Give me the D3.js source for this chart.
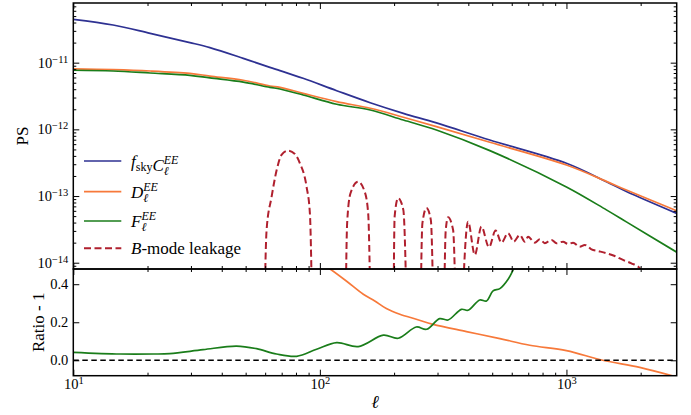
<!DOCTYPE html>
<html>
<head>
<meta charset="utf-8">
<script src="https://cdn.jsdelivr.net/npm/d3@7"></script>
<style>
  body { margin: 0; background: #fff; }
  svg { font-family: "Liberation Serif", "Times New Roman", serif; }
  .axis line { stroke: #000; stroke-width: 1; }
  .axis text { fill: #000; font-size: 14.5px; font-family: "Liberation Serif", serif; }
</style>
</head>
<body>
<svg width="691" height="415"></svg>
<script>
// multipoles shared by the three spectra of the top panel
var ell = [10, 14.5, 20.5, 29.7, 35.8, 48.9, 62.7, 68.9, 85.5, 117, 160, 218, 297, 489, 1000, 1452, 1750, 2800];
var fskyCl = [4.47e-11, 3.67e-11, 2.75e-11, 2.0e-11, 1.68e-11, 1.16e-11, 8.5e-12, 7.6e-12, 5.83e-12, 3.8e-12,
  2.51e-12, 1.74e-12, 1.25e-12, 6.93e-13, 3.1e-13, 1.64e-13, 1.17e-13, 5.5e-14];
var dEll = [8.05e-12, 7.85e-12, 7.5e-12, 6.9e-12, 6.3e-12, 5.45e-12, 4.47e-12, 4.27e-12, 3.47e-12, 2.6e-12,
  2.07e-12, 1.52e-12, 1.10e-12, 6.4e-13, 2.92e-13, 1.66e-13, 1.23e-13, 6.0e-14];
var fEll = [7.7e-12, 7.5e-12, 7.0e-12, 6.45e-12, 5.9e-12, 5.1e-12, 4.27e-12, 4.03e-12, 3.28e-12, 2.38e-12,
  1.95e-12, 1.38e-12, 9.8e-13, 4.8e-13, 1.37e-13, 6.2e-14, 4.1e-14, 1.44e-14];

// B-mode leakage, null = negative part (not drawn on a log axis), 1e-16 = crossing zero
var leakEll = [58.9, 60.8, 63.7, 66.8, 69.9, 74.4, 79.2, 83.0, 88.3, 91.1, 94.0, null,
  126.2, 129, 133, 142.9, 152, 157, 162, null,
  198, 201, 207.6, 218, 228, null,
  254, 260.5, 270.6, 281.8, 292, null,
  316, 324, 331, 347, 360, null,
  368, 399, 425, 452, 485, 516, 545, 580, 611, 647, 678, 699, 744, 780, 817, 870, 911, 969,
  1015, 1064, 1132, 1187, 1263, 1343, 1452, 1570, 1696, 1834, 1982, 2100];
var leakVal = [1e-16, 3.1e-14, 9.7e-14, 2.45e-13, 4.13e-13, 4.8e-13, 4.27e-13, 3.1e-13, 1.38e-13, 5.5e-14, 1e-16, null,
  1e-16, 3.9e-14, 1.09e-13, 1.64e-13, 1.16e-13, 5.5e-14, 1e-16, null,
  1e-16, 4.9e-14, 9.3e-14, 6.2e-14, 1e-16, null,
  1e-16, 3.9e-14, 6.6e-14, 4.4e-14, 1e-16, null,
  1e-16, 3.1e-14, 4.8e-14, 3.1e-14, 1e-16, null,
  1e-16, 4.13e-14, 1.31e-14, 3.48e-14, 1.71e-14, 3.03e-14, 2.0e-14, 2.77e-14, 2.07e-14, 2.61e-14, 2.07e-14, 2.46e-14,
  2.0e-14, 2.25e-14, 1.96e-14, 2.2e-14, 1.96e-14, 2.07e-14, 1.91e-14, 2.0e-14, 1.74e-14, 1.85e-14, 1.59e-14,
  1.5e-14, 1.39e-14, 1.26e-14, 1.1e-14, 9.8e-15, 8.3e-15, 6e-15];

// bottom panel (ratio - 1)
var ratioFEll = [10, 15.5, 21.1, 24.6, 33.6, 45.9, 55.4, 66.7, 80.5, 97, 117, 143, 181, 208, 246, 271, 306, 331,
  375, 399, 445, 474, 504, 537, 580, 620];
var ratioF = [0.042, 0.033, 0.033, 0.035, 0.056, 0.075, 0.061, 0.033, 0.021, 0.058, 0.093, 0.072, 0.132, 0.116,
  0.175, 0.163, 0.219, 0.212, 0.268, 0.263, 0.317, 0.312, 0.365, 0.377, 0.426, 0.50];
var ratioDEll = [100, 110, 128, 150, 167, 186, 211, 246, 288, 393, 537, 710, 1000, 1403, 1983, 2800];
var ratioD = [0.515, 0.48, 0.417, 0.347, 0.312, 0.272, 0.242, 0.216, 0.189, 0.151, 0.114, 0.079, 0.051, 0.0,
  -0.037, -0.088];

var xMajor = [10, 100, 1000];
var topMajor = [1e-14, 1e-13, 1e-12, 1e-11];
var ratioTicks = [0.0, 0.2, 0.4];

var colors = { c: "#2e3192", d: "#f7793a", f: "#1a7d1a", leak: "#b0202e" };

var svg = d3.select("svg");
// note: "top" is taken by window.top, hence plotTop
var left = 73.3, right = 676.7, plotTop = 3, mid = 269, bottom = 375.7;

var x = d3.scaleLog().domain([10, 2800]).range([left, right]);
var yTop = d3.scaleLog().domain([8.05e-15, 7.85e-11]).range([mid, plotTop]);
var yBot = d3.scaleLinear().domain([-0.081, 0.48]).range([bottom, mid]);

var xMinor = [];
[10, 100, 1000].forEach(function (b) {
  for (var k = 2; k <= 9; k++) if (b * k <= 2800) xMinor.push(b * k);
});
var yMinor = [];
[1e-15, 1e-14, 1e-13, 1e-12, 1e-11].forEach(function (b) {
  for (var k = 2; k <= 9; k++) {
    var v = b * k;
    if (v >= 8.05e-15 && v <= 7.85e-11) yMinor.push(v);
  }
});

var defs = svg.append("defs");
defs.append("clipPath").attr("id", "clipTop").append("rect")
  .attr("x", left).attr("y", plotTop).attr("width", right - left).attr("height", mid - plotTop);
defs.append("clipPath").attr("id", "clipBot").append("rect")
  .attr("x", left).attr("y", mid).attr("width", right - left).attr("height", bottom - mid);

// ---- top panel lines
var lineTop = d3.line()
  .x(function (d) { return x(d[0]); })
  .y(function (d) { return yTop(d[1]); })
  .curve(d3.curveCatmullRom);
var lineLeak = d3.line()
  .defined(function (d) { return d[0] != null && d[1] != null; })
  .x(function (d) { return x(d[0]); })
  .y(function (d) { return yTop(d[1]); })
  .curve(d3.curveMonotoneX);

var gTop = svg.append("g").attr("clip-path", "url(#clipTop)");
gTop.append("path").datum(ell.map(function (l, i) { return [l, fskyCl[i]]; }))
  .attr("d", lineTop).attr("fill", "none").attr("stroke", colors.c).attr("stroke-width", 1.7);
gTop.append("path").datum(ell.map(function (l, i) { return [l, dEll[i]]; }))
  .attr("d", lineTop).attr("fill", "none").attr("stroke", colors.d).attr("stroke-width", 1.7);
gTop.append("path").datum(ell.map(function (l, i) { return [l, fEll[i]]; }))
  .attr("d", lineTop).attr("fill", "none").attr("stroke", colors.f).attr("stroke-width", 1.7);
gTop.append("path").datum(leakEll.map(function (l, i) { return [l, leakVal[i]]; }))
  .attr("d", lineLeak).attr("fill", "none").attr("stroke", colors.leak).attr("stroke-width", 2)
  .attr("stroke-dasharray", "7,3.5");

// ---- bottom panel lines
var lineBot = d3.line()
  .x(function (d) { return x(d[0]); })
  .y(function (d) { return yBot(d[1]); })
  .curve(d3.curveCatmullRom);

var gBot = svg.append("g").attr("clip-path", "url(#clipBot)");
gBot.append("path").datum(ratioDEll.map(function (l, i) { return [l, ratioD[i]]; }))
  .attr("d", lineBot).attr("fill", "none").attr("stroke", colors.d).attr("stroke-width", 1.7);
gBot.append("path").datum(ratioFEll.map(function (l, i) { return [l, ratioF[i]]; }))
  .attr("d", lineBot).attr("fill", "none").attr("stroke", colors.f).attr("stroke-width", 1.7);
gBot.append("path").datum([[10, 0], [2800, 0]])
  .attr("d", lineBot).attr("fill", "none").attr("stroke", "#000").attr("stroke-width", 1.5)
  .attr("stroke-dasharray", "5.5,3.5");

// ---- ticks (all inward)
function ticks(axis, tx, ty) {
  var g = svg.append("g").attr("class", "axis").attr("transform", "translate(" + tx + "," + ty + ")").call(axis);
  g.select(".domain").remove();
  return g;
}
function sup(sel, base, exp) {
  sel.each(function () {
    var t = d3.select(this).text(null);
    t.append("tspan").text(base);
    t.append("tspan").attr("dy", "-0.5em").attr("font-size", "10.5px").text(exp);
  });
}

// x ticks on the four horizontal edges
[[mid, d3.axisBottom], [plotTop, d3.axisTop], [mid, d3.axisTop]].forEach(function (p) {
  ticks(p[1](x).tickValues(xMajor).tickSize(-6).tickFormat(""), 0, p[0]);
  ticks(p[1](x).tickValues(xMinor).tickSize(-3).tickFormat(""), 0, p[0]);
});
ticks(d3.axisBottom(x).tickValues(xMinor).tickSize(-3).tickFormat(""), 0, bottom);
var xLab = ticks(d3.axisBottom(x).tickValues(xMajor).tickSize(-6).tickPadding(3), 0, bottom);
xLab.selectAll(".tick text").each(function (d) {
  sup(d3.select(this), "10", String(Math.round(Math.log10(d))));
});

// top panel y ticks
var yLab = ticks(d3.axisLeft(yTop).tickValues(topMajor).tickSize(-6).tickPadding(5), left, 0);
yLab.selectAll(".tick text").each(function (d) {
  sup(d3.select(this), "10", "\u2212" + Math.round(-Math.log10(d)));
});
ticks(d3.axisLeft(yTop).tickValues(yMinor).tickSize(-3).tickFormat(""), left, 0);
ticks(d3.axisRight(yTop).tickValues(topMajor).tickSize(-6).tickFormat(""), right, 0);
ticks(d3.axisRight(yTop).tickValues(yMinor).tickSize(-3).tickFormat(""), right, 0);

// bottom panel y ticks
ticks(d3.axisLeft(yBot).tickValues(ratioTicks).tickSize(-6).tickPadding(5).tickFormat(d3.format(".1f")), left, 0);
ticks(d3.axisRight(yBot).tickValues(ratioTicks).tickSize(-6).tickFormat(""), right, 0);

// frames
svg.append("rect").attr("x", left).attr("y", plotTop).attr("width", right - left).attr("height", mid - plotTop)
  .attr("fill", "none").attr("stroke", "#000").attr("stroke-width", 1.5);
svg.append("rect").attr("x", left).attr("y", mid).attr("width", right - left).attr("height", bottom - mid)
  .attr("fill", "none").attr("stroke", "#000").attr("stroke-width", 1.5);

// axis labels
svg.append("text").attr("transform", "translate(28," + ((plotTop + mid) / 2) + ") rotate(-90)")
  .attr("text-anchor", "middle").attr("font-size", "17px").text("PS");
svg.append("text").attr("transform", "translate(44," + ((mid + bottom) / 2) + ") rotate(-90)")
  .attr("text-anchor", "middle").attr("font-size", "17px").text("Ratio - 1");
svg.append("text").attr("x", (left + right) / 2).attr("y", 408)
  .attr("text-anchor", "middle").attr("font-size", "18px").attr("font-style", "italic").text("\u2113");

// ---- legend
var legend = svg.append("g").attr("font-size", "17px");
var legY = [161, 191.7, 221, 248.3];
var legColors = [colors.c, colors.d, colors.f, colors.leak];
legY.forEach(function (y, i) {
  legend.append("line").attr("x1", 84).attr("x2", 121.3).attr("y1", y).attr("y2", y)
    .attr("stroke", legColors[i]).attr("stroke-width", i === 3 ? 2 : 1.7)
    .attr("stroke-dasharray", i === 3 ? "7,3.5" : null);
});

function stacked(t, letter) {
  t.append("tspan").attr("font-style", "italic").text(letter);
  var l = t.append("tspan").attr("font-style", "italic").attr("font-size", "12px").attr("dy", 4).text("\u2113");
  var w = l.node().getComputedTextLength();
  t.append("tspan").attr("font-style", "italic").attr("font-size", "12px")
    .attr("dx", -w).attr("dy", -11).text("EE");
}
var t1 = legend.append("text").attr("x", 131).attr("y", legY[0] + 6);
t1.append("tspan").attr("font-style", "italic").text("f");
t1.append("tspan").attr("font-size", "12px").attr("dy", 4).text("sky");
t1.append("tspan").attr("dy", -4).text("");
stacked(t1, "C");
stacked(legend.append("text").attr("x", 131).attr("y", legY[1] + 6), "D");
stacked(legend.append("text").attr("x", 131).attr("y", legY[2] + 6), "F");
var t4 = legend.append("text").attr("x", 131).attr("y", legY[3] + 6);
t4.append("tspan").attr("font-style", "italic").text("B");
t4.append("tspan").text("-mode leakage");
</script>
</body>
</html>
